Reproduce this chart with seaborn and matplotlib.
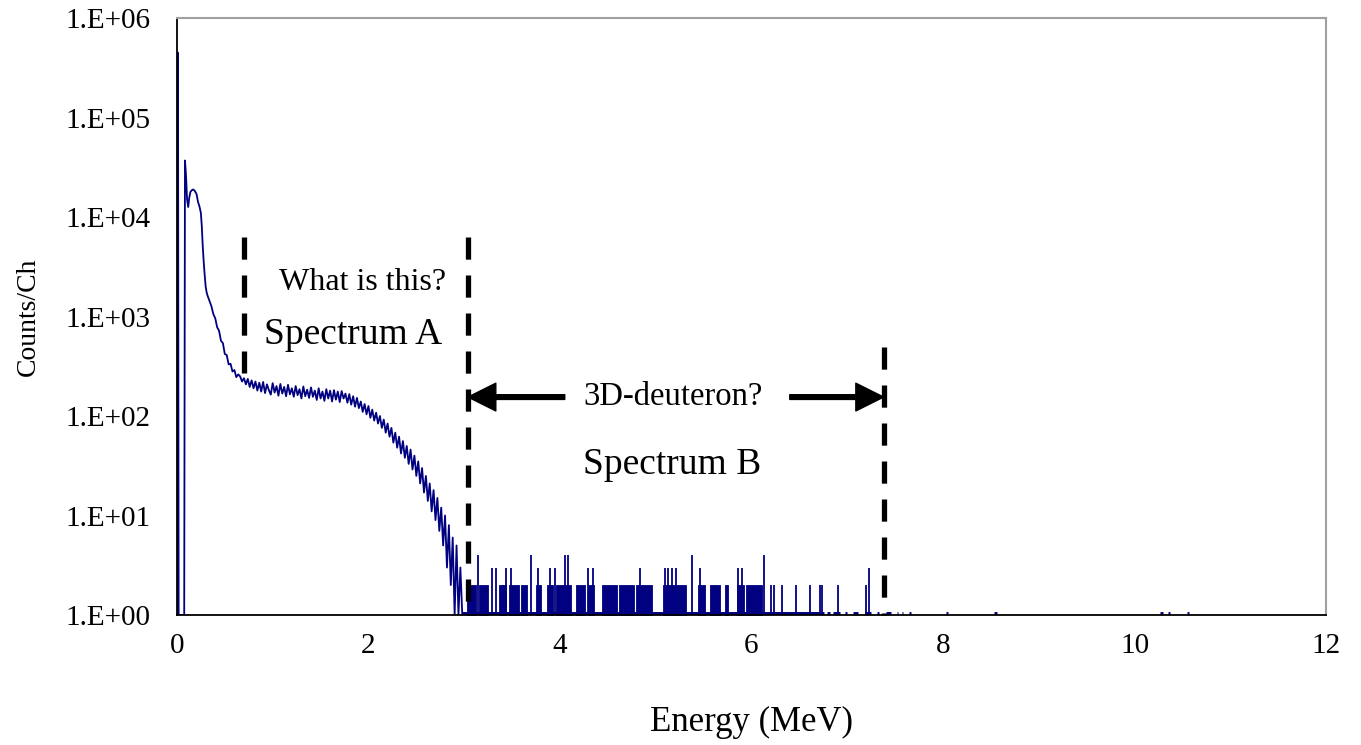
"""
Spectrum plot: Counts/Ch vs Energy (MeV), log scale, with marked regions A and B.
"""

import numpy as np
import pandas as pd
import matplotlib
matplotlib.use("Agg")
import matplotlib.pyplot as plt
from matplotlib.ticker import FixedLocator, MultipleLocator, LogLocator, NullFormatter, FuncFormatter
import seaborn as sns

# --- Spectrum A (continuous part) ---
energy_a = [
    0.000, 0.004, 0.008, 0.012, 0.018, 0.076, 0.084, 0.094, 0.106, 0.118,
    0.128, 0.140, 0.155, 0.170, 0.185, 0.205, 0.220, 0.235, 0.250, 0.260,
    0.270, 0.280, 0.290, 0.300, 0.310,
    0.32, 0.34, 0.36, 0.38, 0.40, 0.42, 0.44, 0.46, 0.48, 0.50,
    0.52, 0.54, 0.56, 0.58, 0.60, 0.62, 0.64, 0.66, 0.68, 0.70,
    0.72, 0.74, 0.76, 0.78, 0.80, 0.82, 0.84, 0.86, 0.88, 0.90,
    0.92, 0.94, 0.96, 0.98, 1.00, 1.02, 1.04, 1.06, 1.08, 1.10,
    1.12, 1.14, 1.16, 1.18, 1.20, 1.22, 1.24, 1.26, 1.28, 1.30,
    1.32, 1.34, 1.36, 1.38, 1.40, 1.42, 1.44, 1.46, 1.48, 1.50,
    1.52, 1.54, 1.56, 1.58, 1.60, 1.62, 1.64, 1.66, 1.68, 1.70,
    1.72, 1.74, 1.76, 1.78, 1.80, 1.82, 1.84, 1.86, 1.88, 1.90,
    1.92, 1.94, 1.96, 1.98, 2.00, 2.02, 2.04, 2.06, 2.08, 2.10,
    2.12, 2.14, 2.16, 2.18, 2.20, 2.22, 2.24, 2.26, 2.28, 2.30,
    2.32, 2.34, 2.36, 2.38, 2.40, 2.42, 2.44, 2.46, 2.48, 2.50,
    2.52, 2.54, 2.56, 2.58, 2.60, 2.62, 2.64, 2.66, 2.68, 2.70,
    2.72, 2.74, 2.76, 2.78, 2.80, 2.82, 2.84, 2.86, 2.88, 2.90,
    2.92, 2.94, 2.96, 2.98, 3.00,
]
counts_a = [
    1, 200000, 450000, 120000, 1, 1, 37000, 27000, 15000, 12600,
    15500, 17800, 18600, 18900, 18400, 17000, 14200, 12800, 11000, 8000,
    5000, 3500, 2600, 2000, 1750,
    1620, 1430, 1270, 1060, 960, 780, 720, 570, 540, 420,
    410, 330, 335, 280, 290, 246, 262, 250, 222, 240,
    208, 236, 196, 228, 190, 222, 180, 216, 176, 220,
    170, 208, 182, 164, 214, 172, 200, 160, 210, 168,
    196, 158, 206, 165, 190, 156, 200, 162, 186, 150,
    198, 158, 184, 152, 194, 156, 180, 145, 190, 150,
    176, 142, 186, 150, 180, 140, 182, 146, 176, 138,
    178, 150, 168, 136, 166, 130, 158, 124, 152, 120,
    140, 110, 132, 104, 126, 96, 116, 90, 108, 84,
    100, 76, 92, 68, 84, 62, 76, 54, 68, 48,
    62, 42, 56, 38, 50, 33, 46, 29, 40, 25,
    35, 21, 30, 17, 25, 14, 21, 11, 18, 9,
    15, 7, 12, 5, 10, 3, 8, 2, 6, 1,
    5, 1, 3, 1, 1,
]

# --- Spectrum B (sparse part) ---
# dense runs of channels at 2 counts
band_start = [3.03, 3.15, 3.36, 3.47, 3.59, 3.75, 3.86, 3.96, 4.17, 4.29,
              4.44, 4.62, 4.79, 5.08, 5.44, 5.57, 5.72, 5.85, 5.94]
band_end = [3.12, 3.25, 3.44, 3.57, 3.66, 3.80, 3.93, 4.12, 4.26, 4.36,
            4.60, 4.77, 4.96, 5.32, 5.51, 5.67, 5.76, 5.92, 6.11]
band_counts = [2] * len(band_start)

# isolated channels
spike_energy = [3.14, 3.29, 3.33, 3.40, 3.44, 3.49, 3.70, 3.77, 3.90, 3.95,
                4.05, 4.08, 4.29, 4.34, 4.84, 5.10, 5.13, 5.17, 5.21, 5.38,
                5.46, 5.86, 5.90, 6.13, 6.20, 6.24, 6.32, 6.46, 6.61, 6.72,
                6.74, 6.90, 7.20, 7.23]
spike_counts = [4, 3, 3, 2, 3, 3, 4, 3, 3, 3,
                4, 4, 3, 3, 3, 3, 3, 3, 3, 4,
                3, 3, 3, 4, 2, 2, 2, 2, 2, 2,
                2, 2, 2, 3]

# runs of channels with 1 count
ones_start = [2.98, 6.72, 6.79, 6.85, 6.98, 7.06, 7.19, 7.31, 7.41, 7.52,
              7.57, 7.64, 8.03, 8.53, 10.27, 10.35, 10.55]
ones_end = [6.70, 6.76, 6.82, 6.92, 7.00, 7.11, 7.25, 7.33, 7.46, 7.53,
            7.58, 7.67, 8.05, 8.56, 10.30, 10.37, 10.57]

# --- markers / annotations ---
cut_energy = [0.70, 3.04, 7.38]
cut_top = [6300, 6300, 490]
cut_bottom = [270, 1, 1]

LINE_COLOR = "#000080"

sns.set_style("white")
plt.rcParams["font.family"] = ["Liberation Serif", "DejaVu Serif"]
plt.rcParams["text.color"] = "black"
plt.rcParams["axes.labelcolor"] = "black"
plt.rcParams["xtick.color"] = "black"
plt.rcParams["ytick.color"] = "black"

fig = plt.figure(figsize=(13.61, 7.45), dpi=100)
ax = fig.add_axes([0.130, 0.1745, 0.8443, 0.8013])

df_a = pd.DataFrame({"energy": energy_a, "counts": counts_a})
sns.lineplot(data=df_a, x="energy", y="counts", ax=ax, color=LINE_COLOR,
             linewidth=1.3, estimator=None, sort=False)

# spectrum B
for s, e, c in zip(band_start, band_end, band_counts):
    ax.fill_between([s, e], 1, c, color=LINE_COLOR, linewidth=0.6)
ax.vlines(spike_energy, 1, spike_counts, color=LINE_COLOR, linewidth=1.3)
ax.hlines([1] * len(ones_start), ones_start, ones_end, color=LINE_COLOR, linewidth=5)

ax.set_yscale("log")
ax.set_xlim(0, 12)
ax.set_ylim(1, 1e6)

# dashed cut lines
for x, top, bot in zip(cut_energy, cut_top, cut_bottom):
    ax.plot([x, x], [top, bot], color="black", linewidth=3.8,
            dashes=(4.2, 3.0), solid_capstyle="butt", dash_capstyle="butt",
            clip_on=False, zorder=5)

# arrows
arrow_kw = dict(facecolor="black", edgecolor="black", width=3.4,
                headwidth=20, headlength=20, shrink=0)
ax.annotate("", xy=(3.04, 155), xytext=(4.05, 155), arrowprops=arrow_kw)
ax.annotate("", xy=(7.38, 155), xytext=(6.40, 155), arrowprops=arrow_kw)

ax.text(1.94, 2180, "What is this?", ha="center", va="center", fontsize=23)
ax.text(1.84, 650, "Spectrum A", ha="center", va="center", fontsize=27)
ax.text(5.18, 155, "3D-deuteron?", ha="center", va="center", fontsize=23.5)
ax.text(5.17, 32, "Spectrum B", ha="center", va="center", fontsize=27)

# axes styling
ax.xaxis.set_major_locator(FixedLocator([0, 2, 4, 6, 8, 10, 12]))
ax.xaxis.set_minor_locator(MultipleLocator(0.4))
ax.yaxis.set_major_locator(LogLocator(base=10, numticks=10))
ax.yaxis.set_minor_locator(LogLocator(base=10, subs=np.arange(2, 10), numticks=20))
ax.yaxis.set_minor_formatter(NullFormatter())
ax.yaxis.set_major_formatter(FuncFormatter(lambda v, p: f"1.E+{int(round(np.log10(v))):02d}"))

ax.tick_params(axis="both", which="major", direction="inout", length=14,
               width=1.2, color="black", labelsize=21)
ax.tick_params(axis="x", which="major", pad=6)
ax.tick_params(axis="y", which="major", pad=12)
ax.tick_params(axis="both", which="minor", direction="in", length=7,
               width=1.0, color="black")

for side in ["left", "bottom"]:
    ax.spines[side].set_color("black")
    ax.spines[side].set_linewidth(1.3)
for side in ["top", "right"]:
    ax.spines[side].set_color("#a0a0a0")
    ax.spines[side].set_linewidth(1.5)

ax.set_xlabel("Energy (MeV)", fontsize=25, labelpad=34)
ax.set_ylabel("Counts/Ch", fontsize=20, labelpad=18)
ax.grid(False)

fig.savefig("out.png", dpi=100)
